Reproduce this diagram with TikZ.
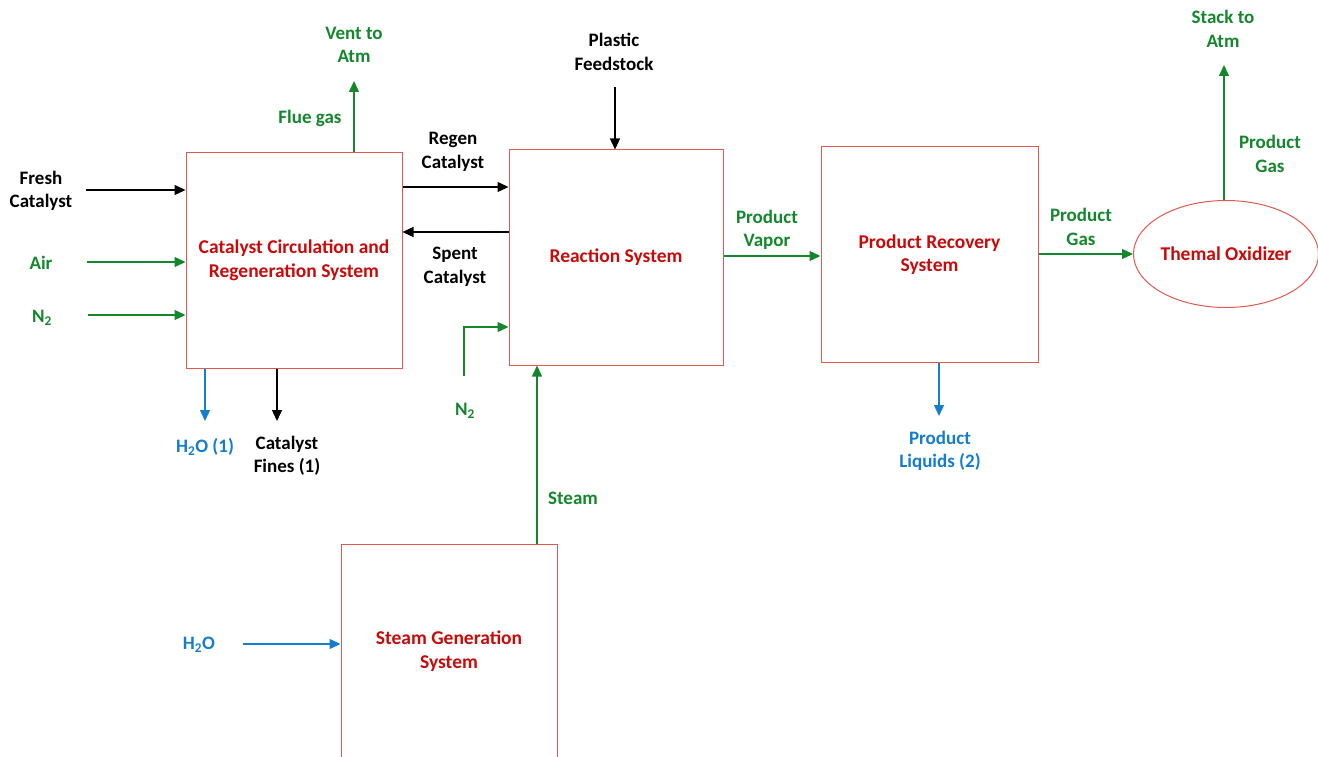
\documentclass[tikz,border=0pt]{standalone}
\usepackage{fontspec}
\setmainfont{Carlito}
\usetikzlibrary{arrows.meta,shapes.geometric}
\definecolor{boxred}{RGB}{222,90,80}
\definecolor{txtred}{RGB}{200,10,10}
\definecolor{grn}{RGB}{20,135,45}
\definecolor{blu}{RGB}{20,125,205}
\tikzset{
  every node/.style={font=\bfseries\fontsize{19}{23.5}\selectfont, align=center, inner sep=0pt},
  sysbox/.style={draw=boxred, line width=1pt, text=txtred, font=\bfseries\fontsize{19.5}{23.5}\selectfont},
  lbl/.style={text=black},
  glbl/.style={text=grn},
  blbl/.style={text=blu},
  arr/.style={line width=1.4pt, -{Triangle[length=11pt,width=10pt]}},
  karr/.style={arr, draw=black},
  garr/.style={arr, draw=grn},
  barr/.style={arr, draw=blu}
}
\begin{document}
\begin{tikzpicture}[x=1pt,y=-1pt]
\useasboundingbox[fill=white] (0,0) rectangle (1318,757);
\clip (0,0) rectangle (1318,757);
% systems
\node[sysbox, minimum width=216pt, minimum height=215pt] (cat) at (294,260.5) {Catalyst Circulation and\\Regeneration System};
\node[sysbox, minimum width=214pt, minimum height=215pt] (rx) at (616,257.5) {Reaction System};
\node[sysbox, minimum width=217pt, minimum height=215pt] (rec) at (929.5,254.5) {Product Recovery\\System};
\node[sysbox, ellipse, minimum width=182pt, minimum height=107pt] (tox) at (1226,254) {Themal Oxidizer};
\node[sysbox, minimum width=216pt, minimum height=240pt] (stm) at (449,664) {};
\node[text=txtred, font=\bfseries\fontsize{19.5}{23.5}\selectfont] (stmlbl) at (449,651) {Steam Generation\\System};
% labels
\node[lbl] (fresh) at (41,191) {Fresh\\Catalyst};
\node[glbl] (air) at (41,263) {Air};
\node[glbl] (n2a) at (42,318) {N\textsubscript{2}};
\node[blbl] (h2o1) at (205,447) {H\textsubscript{2}O (1)};
\node[lbl] (fines) at (287,456) {Catalyst\\Fines (1)};
\node[glbl] (flue) at (310,118) {Flue gas};
\node[glbl] (vent) at (354,45) {Vent to\\Atm};
\node[lbl] (regen) at (453,152) {Regen\\Catalyst};
\node[lbl] (spent) at (455,267) {Spent\\Catalyst};
\node[lbl] (plastic) at (614,52) {Plastic\\Feedstock};
\node[glbl] (n2b) at (465,411) {N\textsubscript{2}};
\node[glbl] (steam) at (573,498) {Steam};
\node[glbl] (pvap) at (767,230) {Product\\Vapor};
\node[glbl] (pgas) at (1081,227) {Product\\Gas};
\node[blbl] (pliq) at (940,451) {Product\\Liquids (2)};
\node[glbl] (pgas2) at (1270,154) {Product\\Gas};
\node[glbl] (stack) at (1223,29) {Stack to\\Atm};
\node[blbl] (h2o) at (199,645) {H\textsubscript{2}O};
% connector end points
\coordinate (fcS) at (86,190);
\coordinate (airS) at (87,262);
\coordinate (n2aS) at (88,315);
\coordinate (h2o1E) at (205,421);
\coordinate (finesE) at (277,421);
\coordinate (ventE) at (354,81);
\coordinate (plasticS) at (615,87);
\coordinate (n2bS) at (464,376);
\coordinate (n2bM) at (464,327);
\coordinate (pliqE) at (939,416);
\coordinate (stackE) at (1224,65);
\coordinate (h2oS) at (243,644);
% connectors
\draw[karr] (fcS) -- (fcS -| cat.west);
\draw[garr] (airS) -- (airS -| cat.west);
\draw[garr] (n2aS) -- (n2aS -| cat.west);
\draw[barr] (h2o1E |- cat.south) -- (h2o1E);
\draw[karr] (finesE |- cat.south) -- (finesE);
\draw[garr] (ventE |- cat.north) -- (ventE);
\draw[karr] (cat.east |- 0,187) -- (rx.west |- 0,187);
\draw[karr] (rx.west |- 0,232) -- (cat.east |- 0,232);
\draw[karr] (plasticS) -- (plasticS |- rx.north);
\draw[garr] (n2bS) -- (n2bM) -- (n2bM -| rx.west);
\draw[garr] (stm.north -| 537,0) -- (rx.south -| 537,0);
\draw[garr] (rx.east |- 0,256) -- (rec.west |- 0,256);
\draw[garr] (rec.east |- tox.west) -- (tox.west);
\draw[barr] (pliqE |- rec.south) -- (pliqE);
\draw[garr] (tox.north -| stackE) -- (stackE);
\draw[barr] (h2oS) -- (h2oS -| stm.west);
\end{tikzpicture}
\end{document}
